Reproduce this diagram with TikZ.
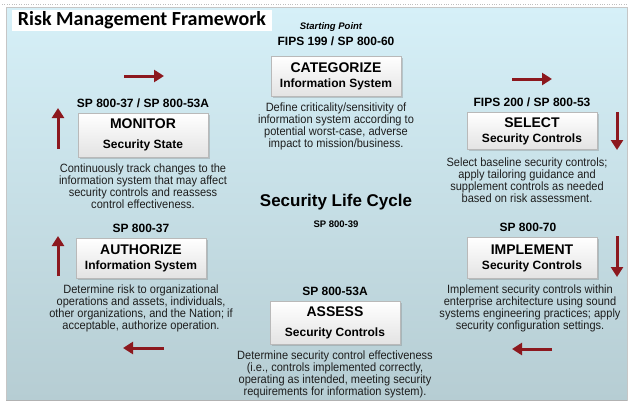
\documentclass[tikz,border=0pt]{standalone}
\usepackage{fontspec}
\setmainfont{Liberation Sans}
\newfontfamily\headfont{Carlito}
\newfontfamily\descfont[FakeStretch=0.92]{Liberation Sans}
\usetikzlibrary{arrows.meta,shadows}

\definecolor{panetop}{RGB}{214,240,248}
\definecolor{panebottom}{RGB}{182,205,211}
\definecolor{cyclered}{RGB}{140,24,30}
\definecolor{desctext}{RGB}{30,30,30}

\tikzset{
  stage/.style={draw=gray!55, line width=0.4pt, top color=white, bottom color=gray!22, minimum width=130pt, inner sep=0pt, align=center, font=\fontsize{12}{15}\selectfont\bfseries, drop shadow={shadow xshift=1.6pt, shadow yshift=-1.6pt, opacity=0.35}},
  stdref/.style={anchor=south, inner sep=0pt, yshift=5pt, font=\fontsize{12}{14}\selectfont\bfseries},
  desc/.style={anchor=north, inner sep=0pt, yshift=-6pt, align=center, text=desctext, font=\descfont\fontsize{12}{12}\selectfont},
  flowarrow/.style={draw=cyclered, line width=3pt, -{Triangle[length=10pt,width=12pt]}}
}
\newcommand{\stagename}[1]{{\fontsize{14}{15}\selectfont #1}}

\begin{document}
\begin{tikzpicture}[x=1pt, y=-1pt]
	\useasboundingbox (0,0) rectangle (629,407);
	% panel
	\shade[top color=panetop, bottom color=panebottom, draw=gray!45] (6,7) rectangle (627,400);
	\draw[gray!60, line width=1.5pt] (6,400.5) -- (627,400.5);
	\draw[gray!50, dotted] (2,4) -- (627,4);
	\node[fill=white, minimum width=260pt, minimum height=21pt, inner sep=0pt, font=\headfont\fontsize{20}{22}\selectfont\bfseries] (title) at (142,20.5) {Risk Management Framework};
	% the six steps
	\node[stage, minimum height=40pt] (cat) at (336,76) {\stagename{CATEGORIZE}\\Information System};
	\node[stage, minimum height=44pt] (mon) at (143,135) {\stagename{MONITOR}\\[5pt]Security State};
	\node[stage, minimum height=37pt] (sel) at (532,131) {\stagename{SELECT}\\Security Controls};
	\node[stage, minimum height=40pt] (auth) at (141,258) {\stagename{AUTHORIZE}\\Information System};
	\node[stage, minimum height=41pt] (impl) at (532,258) {\stagename{IMPLEMENT}\\Security Controls};
	\node[stage, minimum height=43pt] (asm) at (335,323) {\stagename{ASSESS}\\[5pt]Security Controls};
	% publications above the steps
	\node[stdref, yshift=5pt] (catref) at (cat.north) {FIPS 199 / SP 800-60};
	\node[anchor=south, inner sep=0pt, yshift=5pt, xshift=-5pt, font=\fontsize{9.5}{10}\selectfont\bfseries\itshape] (start) at (catref.north) {Starting Point};
	\node[stdref] (monref) at (mon.north) {SP 800-37 / SP 800-53A};
	\node[stdref] (selref) at (sel.north) {FIPS 200 / SP 800-53};
	\node[stdref] (authref) at (auth.north) {SP 800-37};
	\node[stdref, xshift=-4pt] (implref) at (impl.north) {SP 800-70};
	\node[stdref] (asmref) at (asm.north) {SP 800-53A};
	% descriptions below the steps
	\node[desc] (catdesc) at (cat.south) {Define criticality/sensitivity of\\information system according to\\potential worst-case, adverse\\impact to mission/business.};
	\node[desc] (mondesc) at (mon.south) {Continuously track changes to the\\information system that may affect\\security controls and reassess\\control effectiveness.};
	\node[desc, yshift=-2pt, xshift=-5pt] (seldesc) at (sel.south) {Select baseline security controls;\\apply tailoring guidance and\\supplement controls as needed\\based on risk assessment.};
	\node[desc] (authdesc) at (auth.south) {Determine risk to organizational\\operations and assets, individuals,\\other organizations, and the Nation; if\\acceptable, authorize operation.};
	\node[desc, xshift=-2pt] (impldesc) at (impl.south) {Implement security controls within\\enterprise architecture using sound\\systems engineering practices; apply\\security configuration settings.};
	\node[desc] (asmdesc) at (asm.south) {Determine security control effectiveness\\(i.e., controls implemented correctly,\\operating as intended, meeting security\\requirements for information system).};
	% centre
	\node[font=\fontsize{17}{19}\selectfont\bfseries] (cycle) at (336,202) {Security Life Cycle};
	\node[font=\fontsize{9.5}{11}\selectfont\bfseries] (cycleref) at (336,224) {SP 800-39};
	% arrows round the cycle
	\foreach \n/\ax/\ay/\bx/\by in {tl/124/76/164/76, tr/512/79/552/79, sel/617/112/617/150, impl/617/236/617/277, br/552/349/512/349, bl/164/348/123/348, auth/58/276/58/236, mon/58/149/58/108} {
		\coordinate (\n-from) at (\ax,\ay);
		\coordinate (\n-to) at (\bx,\by);
		\draw[flowarrow] (\n-from) -- (\n-to);
	}
\end{tikzpicture}
\end{document}
